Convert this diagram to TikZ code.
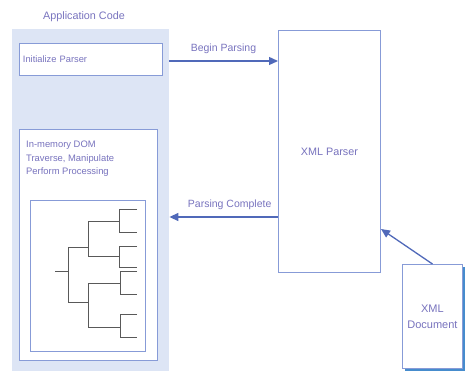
\documentclass[tikz,border=0pt]{standalone}
\usepackage{fontspec}
\setmainfont{Liberation Sans}
\usetikzlibrary{arrows.meta,positioning}
\definecolor{Fondo}{RGB}{221, 229, 245}
\definecolor{Borde}{RGB}{135, 155, 215}
\definecolor{Texto}{RGB}{120, 115, 190}
\definecolor{Flecha}{RGB}{80, 105, 185}
\definecolor{Sombra}{RGB}{70, 140, 205}

\begin{document}
\begin{tikzpicture}[x=1pt, y=-1pt,
    caja/.style={draw=Borde, line width=0.9pt, fill=white, anchor=north west},
    flecha/.style={draw=Flecha, line width=1.3pt, -{Triangle[length=9pt, width=8pt]}},
    etiqueta/.style={text=Texto, font=\fontsize{10.5}{12}\selectfont},
    rama/.style={draw=black!65, line width=0.8pt}]
   	\useasboundingbox (0,0) rectangle (465,371);

	%Panel de la aplicacion
   	\node[fill=Fondo, anchor=north west, minimum width=157pt, minimum height=342pt, inner sep=0] (panel) at (12,29) {};
   	\node[etiqueta, font=\fontsize{10.8}{12}\selectfont] (titulo) at (84,17) {Application Code};

	%Caja inicializar
   	\node[caja, minimum width=143pt, minimum height=32pt, text width=136pt, inner xsep=3.5pt, align=left,
   	  text=Texto, font=\fontsize{9.3}{11}\selectfont] (init) at (19,43) {Initialize Parser};

	%Caja DOM en memoria
   	\node[caja, minimum width=138pt, minimum height=231pt] (dom) at (19,129) {};
   	\node[anchor=north west, inner sep=0, align=left, text=Texto,
   	  font=\fontsize{9.4}{13.5}\selectfont] (texto) at (26,141) {In-memory DOM\\Traverse, Manipulate\\Perform Processing};

	%Arbol del documento
   	\node[caja, minimum width=115pt, minimum height=151pt] (arbol) at (30,200) {};
   	\draw[rama] (55,271) -- (68,271);
   	\draw[rama] (88,247) -| (68,302) -- (88,302);
   	\draw[rama] (119,221) -| (88,256) -- (119,256);
   	\draw[rama] (120,283) -| (88,327) -- (120,327);
   	\draw[rama] (137,209) -| (119,232) -- (137,232);
   	\draw[rama] (137,246) -| (119,267) -- (137,267);
   	\draw[rama] (137,271) -| (120,294) -- (137,294);
   	\draw[rama] (137,314) -| (120,337) -- (137,337);

	%Parser XML
   	\node[caja, minimum width=102pt, minimum height=242pt, text=Texto,
   	  font=\fontsize{10.8}{12}\selectfont] (parser) at (278,30) {XML Parser};

	%Documento XML con sombra
   	\fill[Sombra] (405,267) rectangle (465,371);
   	\node[caja, minimum width=60pt, minimum height=104pt, align=center, text=Texto, inner xsep=1pt,
   	  font=\fontsize{11}{16}\selectfont] (doc) at (402,264) {XML\\Document};

	%Flechas
   	\coordinate (inicio) at (169,61);
   	\coordinate (fin) at (278,217);
   	\coordinate (entrada) at (381,229);
   	\draw[flecha] (inicio) -- (inicio -| parser.west)
   	  node[etiqueta, midway, above=3pt] (begin) {Begin Parsing};
   	\draw[flecha] (fin) -- (fin -| panel.east)
   	  node[etiqueta, midway, above=3pt, xshift=6pt] (complete) {Parsing Complete};
   	\draw[flecha] (doc.north) -- (entrada);
\end{tikzpicture}
\end{document}
